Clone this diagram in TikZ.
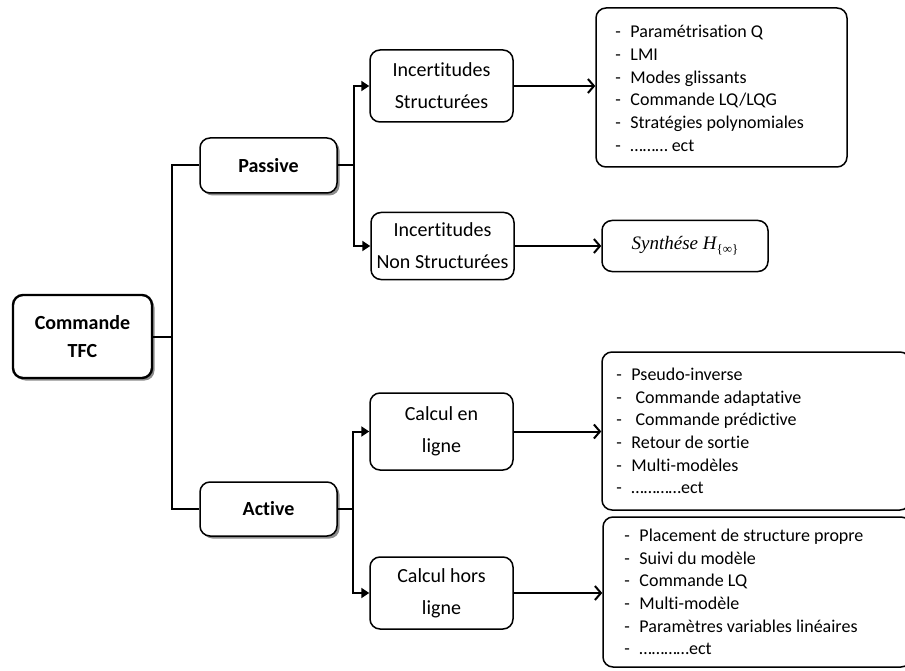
\documentclass[tikz,border=0pt]{standalone}
\usepackage{fontspec}
\setmainfont[Ligatures=NoCommon]{Carlito}
\newfontfamily\serifit{Liberation Serif}
\usetikzlibrary{shadows,arrows.meta}
\newcommand{\dli}[1]{\makebox[15pt][l]{-}#1}
\begin{document}
\begin{tikzpicture}[x=1pt,y=-1pt,
  box/.style={draw,line width=1.5pt,rounded corners=10pt,fill=white,inner sep=0pt},
  shbox/.style={box,drop shadow={shadow xshift=2.5pt,shadow yshift=-2.5pt,fill=black!45,opacity=1}},
  bold/.style={font=\fontsize{20}{22}\selectfont\bfseries,align=center},
  lab/.style={font=\fontsize{20}{32}\selectfont,align=center},
  listtext/.style={font=\fontsize{18}{22.7}\selectfont,align=left,anchor=west,inner sep=0pt},
  conn/.style={line width=2pt},
  tri/.style={conn,-{Triangle[length=8pt,width=10pt]}},
  barb/.style={conn,-{Straight Barb[length=6pt,width=14pt,line width=2pt]}}]
\useasboundingbox (0,0) rectangle (905,671);
\clip (0,0) rectangle (905,671);
% level 0
\node[shbox,line width=2.4pt,minimum width=139pt,minimum height=83pt,bold] (tfc) at (82.5,336.5) {Commande\\[6pt]TFC};
% level 1
\node[shbox,minimum width=137pt,minimum height=55pt,bold] (passive) at (268.5,165.5) {Passive};
\node[shbox,minimum width=137pt,minimum height=54pt,bold] (active) at (268.5,509) {Active};
% level 2
\node[box,minimum width=143pt,minimum height=72pt,lab] (is) at (441.5,86) {Incertitudes\\Structurées};
\node[box,minimum width=143pt,minimum height=67pt,lab] (ins) at (442.5,246) {Incertitudes\\Non Structurées};
\node[box,minimum width=143pt,minimum height=77pt,lab] (cel) at (441.5,431.5) {Calcul en\\ligne};
\node[box,minimum width=143pt,minimum height=72pt,lab] (chl) at (441.5,593) {Calcul hors\\ligne};
% level 3
\node[box,minimum width=251pt,minimum height=159pt] (l1) at (721.5,87.5) {};
\node[listtext] (l1t) at ([xshift=20pt,yshift=-1pt]l1.west) {\dli{Paramétrisation Q}\\\dli{LMI}\\\dli{Modes glissants}\\\dli{Commande LQ/LQG}\\\dli{Stratégies polynomiales}\\\dli{……… ect}};
\node[box,minimum width=166pt,minimum height=51pt,font=\fontsize{19}{20}\selectfont\serifit] (syn) at (685,246) {\itshape Synthése H\raisebox{-4pt}{\upshape\fontsize{13}{13}\selectfont\{∞\}}};
\node[box,minimum width=308pt,minimum height=158pt] (l2) at (756,431) {};
\node[listtext] (l2t) at ([xshift=15pt]l2.west) {\dli{Pseudo-inverse}\\\dli{\ Commande adaptative}\\\dli{\ Commande prédictive}\\\dli{Retour de sortie}\\\dli{Multi-modèles}\\\dli{…………ect}};
\node[box,minimum width=308pt,minimum height=150pt] (l3) at (757,592) {};
\node[listtext] (l3t) at ([xshift=22pt]l3.west) {\dli{Placement de structure propre}\\\dli{Suivi du modèle}\\\dli{Commande LQ}\\\dli{Multi-modèle}\\\dli{Paramètres variables linéaires}\\\dli{…………ect}};
% bus coordinates
\coordinate (b0) at (172,0);
\coordinate (b1) at (354,0);
\coordinate (b2) at (353,0);
% connectors
\draw[conn] (tfc.east) -- (tfc.east -| b0);
\draw[conn] (passive.west) -- (passive.west -| b0) -- (active.west -| b0) -- (active.west);
\draw[conn] (passive.east) -- (passive.east -| b1);
\draw[tri] (passive.east -| b1) |- (is.west);
\draw[tri] (passive.east -| b1) |- (ins.west);
\draw[conn] (active.east) -- (active.east -| b2);
\draw[tri] (active.east -| b2) |- (cel.west);
\draw[tri] (active.east -| b2) |- (chl.west);
\draw[barb] (is.east) -- (is.east -| l1.west);
\draw[barb] (ins.east) -- (syn.west);
\draw[barb] (cel.east) -- (cel.east -| l2.west);
\draw[barb] (chl.east) -- (chl.east -| l3.west);
\end{tikzpicture}
\end{document}
